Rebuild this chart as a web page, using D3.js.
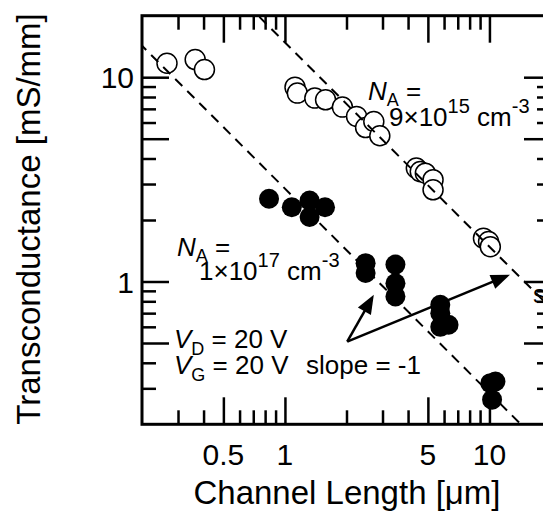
<!DOCTYPE html>
<html>
<head>
<meta charset="utf-8">
<script src="https://cdn.jsdelivr.net/npm/d3@7"></script>
<style>
  html, body { margin: 0; padding: 0; background: #fff; }
  svg { display: block; }
  text { font-family: "Liberation Sans", Arial, sans-serif; fill: #000; }
</style>
</head>
<body>
<svg id="chart" width="543" height="518"></svg>
<script>
// ---- Data ----
// N_A = 9e15 cm^-3 (open circles)
const openL  = [0.265, 0.364, 0.404, 1.12, 1.15, 1.40, 1.58, 1.91, 2.24, 2.48, 2.72, 2.91, 4.39, 4.59, 4.86, 5.3, 5.3, 9.35, 9.9, 10.1];
const openGm = [11.7, 12.2, 10.9, 8.94, 8.36, 7.9, 7.75, 7.14, 6.43, 5.67, 6.07, 5.17, 3.59, 3.45, 3.39, 3.15, 2.81, 1.63, 1.57, 1.48];
// N_A = 1e17 cm^-3 (filled circles)
const fillL  = [0.836, 1.08, 1.32, 1.32, 1.57, 2.48, 2.48, 3.47, 3.47, 3.47, 5.75, 5.75, 5.75, 6.31, 10.7, 10.1, 10.3];
const fillGm = [2.54, 2.31, 2.49, 2.07, 2.31, 1.23, 1.10, 1.21, 0.98, 0.845, 0.769, 0.70, 0.60, 0.614, 0.324, 0.318, 0.264];
// slope = -1 guide lines: gm = K / L
const guideK = [2.85, 14.8];
// axis ticks
const xDomain = [0.2, 20];
const yDomain = [0.2, 20];
const xMajor = [0.5, 1, 5, 10];
const xMinor = [0.3, 0.4, 0.6, 0.7, 0.8, 0.9, 2, 3, 4, 6, 7, 8, 9];
const yMajor = [0.5, 1, 5, 10];
const yMinor = [0.3, 0.4, 0.6, 0.7, 0.8, 0.9, 2, 3, 4, 6, 7, 8, 9];
const xLabels = [0.5, 1, 5, 10];
const yLabels = [1, 10];
// arrows: common tail and two tips (data units)
const arrowTail = [2.016, 0.508];
const arrowTips = [[2.72, 0.861], [12.6, 1.08]];

// ---- Layout ----
const L = 142, R = 551, T = 15.7, B = 424.3;
const svg = d3.select("#chart");
const x = d3.scaleLog().domain(xDomain).range([L, R]);
const y = d3.scaleLog().domain(yDomain).range([B, T]);

svg.append("defs").append("clipPath").attr("id", "plotclip")
  .append("rect").attr("x", L).attr("y", T).attr("width", R - L).attr("height", B - T);

const fmt = d => String(d);
const majorLen = 27, minorLen = 14;

// bottom axis
const gB = svg.append("g").attr("transform", `translate(0,${B})`);
gB.call(d3.axisTop(x).tickValues(xMajor).tickSize(majorLen).tickFormat(""));
gB.append("g").call(d3.axisTop(x).tickValues(xMinor).tickSize(minorLen).tickFormat(""));
// top axis
const gT = svg.append("g").attr("transform", `translate(0,${T})`);
gT.call(d3.axisBottom(x).tickValues(xMajor).tickSize(majorLen).tickFormat(""));
gT.append("g").call(d3.axisBottom(x).tickValues(xMinor).tickSize(minorLen).tickFormat(""));
// left axis
const gL = svg.append("g").attr("transform", `translate(${L},0)`);
gL.call(d3.axisRight(y).tickValues(yMajor).tickSize(majorLen).tickFormat(""));
gL.append("g").call(d3.axisRight(y).tickValues(yMinor).tickSize(minorLen).tickFormat(""));
// right axis
const gR = svg.append("g").attr("transform", `translate(${R},0)`);
gR.call(d3.axisLeft(y).tickValues(yMajor).tickSize(majorLen).tickFormat(""));
gR.append("g").call(d3.axisLeft(y).tickValues(yMinor).tickSize(minorLen).tickFormat(""));

svg.selectAll(".domain").remove();
svg.selectAll(".tick line").attr("stroke", "#000").attr("stroke-width", 2.5);

// frame
svg.append("rect").attr("x", L).attr("y", T).attr("width", R - L).attr("height", B - T)
  .attr("fill", "none").attr("stroke", "#000").attr("stroke-width", 3);

// tick labels
svg.append("g").selectAll("text").data(xLabels).join("text")
  .attr("x", d => x(d)).attr("y", 465)
  .attr("text-anchor", "middle").attr("font-size", 30)
  .text(fmt);
svg.append("g").selectAll("text").data(yLabels).join("text")
  .attr("x", 134).attr("y", d => y(d) + 11)
  .attr("text-anchor", "end").attr("font-size", 30)
  .text(fmt);

// axis titles
svg.append("text").attr("x", 347).attr("y", 504).attr("text-anchor", "middle")
  .attr("font-size", 33).text("Channel Length [\u03BCm]");
svg.append("text").attr("transform", "translate(40,219) rotate(-90)")
  .attr("text-anchor", "middle").attr("font-size", 33).text("Transconductance [mS/mm]");

// data points
const plot = svg.append("g").attr("clip-path", "url(#plotclip)");
const openData = openL.map((d, i) => [d, openGm[i]]);
const fillData = fillL.map((d, i) => [d, fillGm[i]]);
plot.append("g").selectAll("circle").data(fillData).join("circle")
  .attr("cx", d => x(d[0])).attr("cy", d => y(d[1])).attr("r", 10)
  .attr("fill", "#000");
plot.append("g").selectAll("circle").data(openData).join("circle")
  .attr("cx", d => x(d[0])).attr("cy", d => y(d[1])).attr("r", 10)
  .attr("fill", "#fff").attr("stroke", "#000").attr("stroke-width", 1.5);

// guide lines (slope = -1)
const line = d3.line().x(d => x(d[0])).y(d => y(d[1]));
guideK.forEach(K => {
  const pts = [[0.05, K / 0.05], [50, K / 50]];
  plot.append("path").attr("d", line(pts))
    .attr("fill", "none").attr("stroke", "#000").attr("stroke-width", 2)
    .attr("stroke-dasharray", "10,7");
});

// arrows
const tx = x(arrowTail[0]), ty = y(arrowTail[1]);
arrowTips.forEach(tp => {
  const px = x(tp[0]), py = y(tp[1]);
  const dx = px - tx, dy = py - ty, len = Math.hypot(dx, dy);
  const ux = dx / len, uy = dy / len;
  const hl = 19, hw = 7.5;
  const bx = px - ux * hl, by = py - uy * hl;
  svg.append("line").attr("x1", tx).attr("y1", ty).attr("x2", bx + ux * 2).attr("y2", by + uy * 2)
    .attr("stroke", "#000").attr("stroke-width", 2.5);
  svg.append("path")
    .attr("d", `M${px},${py} L${bx - uy * hw},${by + ux * hw} L${bx + uy * hw},${by - ux * hw} Z`)
    .attr("fill", "#000");
});

// annotations
const fs = 26;
function na(xp, yp) {
  const t = svg.append("text").attr("x", xp).attr("y", yp).attr("font-size", fs);
  t.append("tspan").attr("font-style", "italic").text("N");
  t.append("tspan").attr("font-size", 18).attr("dy", 6).text("A");
  t.append("tspan").attr("dy", -6).text(" =");
}
function conc(xp, yp, mant, exp) {
  const t = svg.append("text").attr("x", xp).attr("y", yp).attr("font-size", fs);
  t.append("tspan").text(mant + "\u00D710");
  t.append("tspan").attr("font-size", 20).attr("dy", -13).text(exp);
  t.append("tspan").attr("dy", 13).text(" cm");
  t.append("tspan").attr("font-size", 20).attr("dy", -13).text("-3");
}
na(368, 100);
conc(389, 126, "9", "15");
na(177, 256);
conc(199, 280, "1", "17");

function volt(xp, yp, sub) {
  const t = svg.append("text").attr("x", xp).attr("y", yp).attr("font-size", fs);
  t.append("tspan").attr("font-style", "italic").text("V");
  t.append("tspan").attr("font-size", 18).attr("dy", 7).text(sub);
  t.append("tspan").attr("dy", -7).text(" = 20 V");
}
volt(174, 348, "D");
volt(174, 374, "G");
svg.append("text").attr("x", 306).attr("y", 374).attr("font-size", fs).text("slope = -1");
svg.append("text").attr("x", 533).attr("y", 303).attr("font-size", fs).text("slope = -1");
</script>
</body>
</html>
